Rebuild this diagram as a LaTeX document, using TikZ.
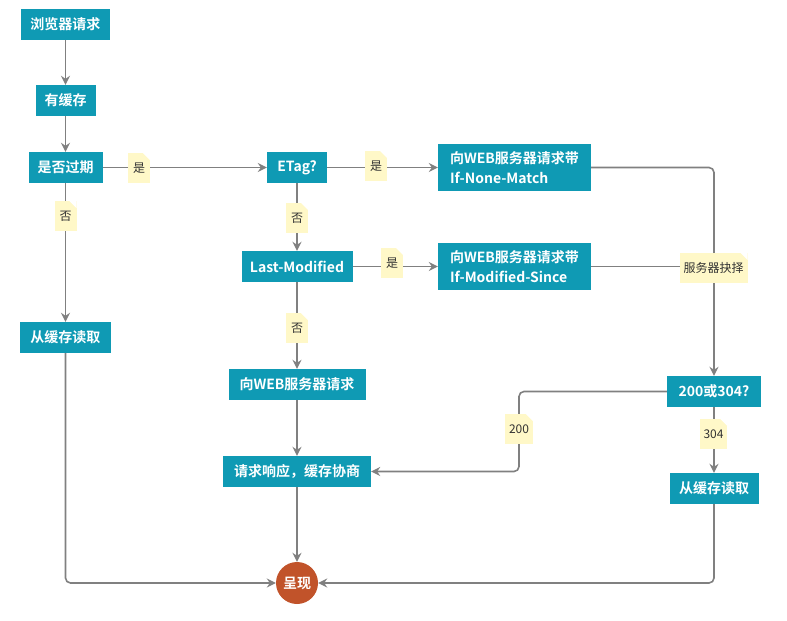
\documentclass[tikz,border=0pt]{standalone}
\usepackage{fontspec}
\setmainfont{Noto Sans CJK SC}[BoldFont={Noto Sans CJK SC Bold}]
\usetikzlibrary{arrows.meta}
\definecolor{boxteal}{HTML}{0F9AB4}
\definecolor{dotred}{HTML}{C1532A}
\definecolor{notey}{HTML}{FFF8C8}
\definecolor{linegray}{HTML}{808080}
\definecolor{textdark}{HTML}{333333}

\begin{document}
\begin{tikzpicture}[x=1pt, y=-1pt,
        box/.style={fill=boxteal, text=white, font=\bfseries\fontsize{14}{20}\selectfont, minimum height=31pt, inner xsep=8pt, inner ysep=0pt},
        twoline/.style={box, align=left, minimum height=47pt, minimum width=153pt},
        note/.style={fill=notey, text=textdark, font=\fontsize{12}{14}\selectfont, minimum height=30pt, minimum width=22pt, inner xsep=4pt, inner ysep=0pt,
            path picture={\fill[white] ([xshift=-7pt]path picture bounding box.north east) -- (path picture bounding box.north east) -- ([yshift=-7pt]path picture bounding box.north east) -- cycle;}},
        line/.style={draw=linegray, line width=1.6pt, rounded corners=5pt},
        arr/.style={line, -{Stealth[length=9pt, width=9pt, inset=3pt]}}]
        \useasboundingbox (0,0) rectangle (787,621);

        % left column
        \node[box, minimum width=89pt] (req) at (65.5,24.5) {浏览器请求};
        \node[box, minimum width=60pt] (has) at (65.5,100.5) {有缓存};
        \node[box, minimum width=74pt] (expire) at (65.5,167.5) {是否过期};
        \node[box, minimum width=91pt] (readl) at (65.5,337.5) {从缓存读取};

        % middle column
        \node[box, minimum width=60pt] (etag) at (297,167.5) {ETag?};
        \node[box, minimum width=111pt] (lastm) at (297,266.5) {Last-Modified};
        \node[box, minimum width=137pt] (webreq) at (297,384.5) {向WEB服务器请求};
        \node[box, minimum width=148pt] (resp) at (297,471.5) {请求响应，缓存协商};
        \node[circle, fill=dotred, text=white, font=\bfseries\fontsize{14}{20}\selectfont, minimum size=42pt, inner sep=0pt] (show) at (297,583) {呈现};

        % right column
        \node[twoline] (inm) at (514.5,167.5) {向WEB服务器请求带\\If-None-Match};
        \node[twoline] (ims) at (514.5,266.5) {向WEB服务器请求带\\If-Modified-Since};
        \node[box, minimum width=94pt] (code) at (714,391.5) {200或304?};
        \node[box, minimum width=89pt] (readr) at (714,488.5) {从缓存读取};

        % connectors
        \draw[arr] (req) -- (has);
        \draw[arr] (has) -- (expire);
        \draw[arr] (expire) -- (etag);
        \draw[arr] (expire) -- (readl);
        \draw[arr] (etag) -- (inm);
        \draw[arr] (etag) -- (lastm);
        \draw[arr] (lastm) -- (ims);
        \draw[arr] (lastm) -- (webreq);
        \draw[arr] (webreq) -- (resp);
        \draw[arr] (resp) -- (show);
        \draw[arr] (inm.east) -| (code.north);
        \draw[line] (ims.east) -- (ims.east -| code.north);
        \coordinate (turn) at (519,0);
        \draw[arr] (code.west) -| (turn |- resp.east) -- (resp.east);
        \draw[arr] (code) -- (readr);
        \draw[arr] (readl.south) |- (show.west);
        \draw[arr] (readr.south) |- (show.east);

        % labels
        \node[note] (yes1) at (139,168) {是};
        \node[note] (no1) at (65.5,216) {否};
        \node[note] (yes2) at (376,166) {是};
        \node[note] (no2) at (297,218) {否};
        \node[note] (yes3) at (392,263) {是};
        \node[note] (no3) at (297,328) {否};
        \node[note] (pick) at (713.5,268) {服务器抉择};
        \node[note] (ok) at (519,429) {200};
        \node[note] (same) at (713.5,434) {304};
\end{tikzpicture}
\end{document}
